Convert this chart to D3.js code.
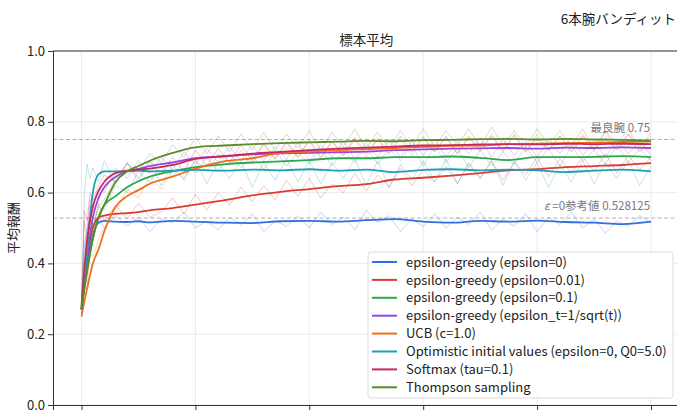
<!DOCTYPE html>
<html>
<head>
<meta charset="utf-8">
<script src="https://cdn.jsdelivr.net/npm/d3@7"></script>
<style>
  body { margin: 0; background: #fff; }
  text { font-family: "Noto Sans CJK JP", "Noto Sans", sans-serif; }
</style>
</head>
<body>
<div id="graph"></div>
<script>
//measurements
var width = 677;
var height = 412;
var plot = { left: 53, right: 679.5, top: 51, bottom: 405 };

//data
var seriesNames = [
    "epsilon-greedy (epsilon=0)",
    "epsilon-greedy (epsilon=0.01)",
    "epsilon-greedy (epsilon=0.1)",
    "epsilon-greedy (epsilon_t=1/sqrt(t))",
    "UCB (c=1.0)",
    "Optimistic initial values (epsilon=0, Q0=5.0)",
    "Softmax (tau=0.1)",
    "Thompson sampling"
];
var colors = ["#2f6fdf", "#dc3b32", "#2aa84f", "#9b45e0", "#f0701e", "#1f9fb5", "#c42a5a", "#5a8c2a"];

// steps of the smoothed curves
var smoothSteps = [0, 50, 100, 150, 200, 300, 400, 500, 600, 800, 1000, 1250, 1500, 1750, 2000,
    2250, 2500, 2750, 3000, 3250, 3500, 3750, 4000, 4250, 4500, 4750, 5000];
var smoothEps0   = [0.27, 0.40, 0.48, 0.515, 0.52, 0.518, 0.517, 0.519, 0.516, 0.52, 0.518, 0.515, 0.514, 0.519, 0.52, 0.518, 0.522, 0.525, 0.518, 0.515, 0.52, 0.518, 0.521, 0.517, 0.515, 0.511, 0.518];
var smoothEps001 = [0.27, 0.42, 0.50, 0.53, 0.535, 0.54, 0.542, 0.545, 0.55, 0.556, 0.566, 0.578, 0.592, 0.602, 0.61, 0.618, 0.624, 0.637, 0.642, 0.648, 0.655, 0.663, 0.666, 0.672, 0.675, 0.678, 0.683];
var smoothEps01  = [0.27, 0.38, 0.47, 0.53, 0.565, 0.59, 0.615, 0.632, 0.645, 0.66, 0.672, 0.68, 0.685, 0.688, 0.692, 0.697, 0.697, 0.70, 0.70, 0.702, 0.698, 0.692, 0.70, 0.70, 0.701, 0.703, 0.70];
var smoothEpsT   = [0.27, 0.42, 0.53, 0.585, 0.615, 0.645, 0.66, 0.667, 0.675, 0.685, 0.697, 0.702, 0.708, 0.711, 0.712, 0.714, 0.716, 0.72, 0.722, 0.724, 0.725, 0.726, 0.724, 0.727, 0.726, 0.728, 0.726];
var smoothUcb    = [0.25, 0.33, 0.40, 0.44, 0.49, 0.56, 0.59, 0.607, 0.625, 0.645, 0.668, 0.688, 0.697, 0.712, 0.716, 0.72, 0.723, 0.726, 0.729, 0.732, 0.733, 0.737, 0.738, 0.74, 0.741, 0.743, 0.744];
var smoothOpt    = [0.27, 0.44, 0.60, 0.652, 0.66, 0.66, 0.66, 0.662, 0.66, 0.662, 0.664, 0.662, 0.665, 0.663, 0.666, 0.662, 0.665, 0.658, 0.664, 0.666, 0.663, 0.665, 0.663, 0.658, 0.662, 0.665, 0.66];
var smoothSoft   = [0.28, 0.47, 0.56, 0.605, 0.63, 0.655, 0.662, 0.665, 0.668, 0.678, 0.695, 0.703, 0.71, 0.715, 0.72, 0.724, 0.727, 0.73, 0.733, 0.734, 0.736, 0.737, 0.736, 0.738, 0.737, 0.738, 0.737];
var smoothTs     = [0.27, 0.38, 0.47, 0.53, 0.565, 0.63, 0.66, 0.675, 0.69, 0.712, 0.728, 0.733, 0.737, 0.74, 0.742, 0.744, 0.746, 0.745, 0.748, 0.749, 0.751, 0.752, 0.75, 0.752, 0.75, 0.749, 0.747];

// steps of the raw (noisy) traces
var rawSteps = [0, 25, 50, 75, 100, 150, 200, 300, 400, 500, 600, 700, 800, 900, 1000,
    1100, 1200, 1300, 1400, 1500, 1600, 1700, 1800, 1900, 2000, 2100, 2200, 2300, 2400, 2500,
    2600, 2700, 2800, 2900, 3000, 3100, 3200, 3300, 3400, 3500, 3600, 3700, 3800, 3900, 4000,
    4100, 4200, 4300, 4400, 4500, 4600, 4700, 4800, 4900, 5000];
var rawEps0   = [0.26, 0.44, 0.50, 0.535, 0.505, 0.53, 0.50, 0.535, 0.505, 0.53, 0.49, 0.525, 0.515, 0.545, 0.50, 0.52, 0.495, 0.53, 0.51, 0.54, 0.49, 0.52, 0.505, 0.535, 0.50, 0.545, 0.51, 0.53, 0.495, 0.55, 0.515, 0.535, 0.49, 0.525, 0.505, 0.54, 0.50, 0.53, 0.51, 0.545, 0.495, 0.525, 0.505, 0.54, 0.49, 0.53, 0.51, 0.545, 0.50, 0.525, 0.485, 0.52, 0.505, 0.535, 0.515];
var rawEps001 = [0.28, 0.52, 0.47, 0.56, 0.50, 0.57, 0.52, 0.565, 0.525, 0.57, 0.53, 0.545, 0.585, 0.54, 0.595, 0.55, 0.60, 0.565, 0.615, 0.575, 0.62, 0.58, 0.635, 0.59, 0.64, 0.585, 0.625, 0.60, 0.655, 0.605, 0.65, 0.615, 0.67, 0.62, 0.665, 0.63, 0.675, 0.625, 0.68, 0.64, 0.69, 0.635, 0.685, 0.65, 0.70, 0.645, 0.695, 0.655, 0.70, 0.66, 0.71, 0.655, 0.705, 0.665, 0.70];
var rawEps01  = [0.27, 0.40, 0.45, 0.52, 0.50, 0.56, 0.55, 0.62, 0.60, 0.66, 0.63, 0.675, 0.645, 0.69, 0.655, 0.70, 0.66, 0.71, 0.67, 0.705, 0.665, 0.72, 0.675, 0.715, 0.68, 0.725, 0.675, 0.72, 0.685, 0.73, 0.68, 0.725, 0.69, 0.735, 0.675, 0.73, 0.685, 0.725, 0.67, 0.72, 0.675, 0.715, 0.68, 0.73, 0.685, 0.725, 0.675, 0.73, 0.69, 0.72, 0.68, 0.735, 0.685, 0.725, 0.69];
var rawEpsT   = [0.27, 0.45, 0.50, 0.58, 0.56, 0.61, 0.60, 0.67, 0.64, 0.69, 0.655, 0.70, 0.665, 0.715, 0.68, 0.725, 0.685, 0.73, 0.69, 0.735, 0.69, 0.73, 0.695, 0.74, 0.69, 0.735, 0.70, 0.745, 0.695, 0.74, 0.70, 0.75, 0.70, 0.745, 0.705, 0.75, 0.70, 0.745, 0.71, 0.755, 0.70, 0.75, 0.705, 0.745, 0.70, 0.75, 0.71, 0.755, 0.705, 0.745, 0.70, 0.75, 0.71, 0.745, 0.705];
var rawUcb    = [0.25, 0.36, 0.34, 0.43, 0.42, 0.47, 0.50, 0.545, 0.61, 0.585, 0.645, 0.61, 0.665, 0.64, 0.69, 0.66, 0.71, 0.675, 0.72, 0.68, 0.735, 0.695, 0.74, 0.70, 0.745, 0.695, 0.745, 0.705, 0.75, 0.70, 0.755, 0.71, 0.75, 0.705, 0.76, 0.715, 0.755, 0.71, 0.76, 0.715, 0.765, 0.72, 0.76, 0.715, 0.765, 0.72, 0.76, 0.725, 0.765, 0.72, 0.77, 0.725, 0.765, 0.73, 0.76];
var rawOpt    = [0.27, 0.60, 0.68, 0.64, 0.67, 0.63, 0.69, 0.625, 0.685, 0.63, 0.69, 0.62, 0.68, 0.635, 0.695, 0.625, 0.685, 0.64, 0.69, 0.615, 0.685, 0.635, 0.695, 0.63, 0.69, 0.625, 0.685, 0.64, 0.695, 0.62, 0.69, 0.615, 0.68, 0.635, 0.69, 0.63, 0.695, 0.625, 0.685, 0.64, 0.69, 0.62, 0.69, 0.635, 0.685, 0.615, 0.68, 0.63, 0.69, 0.625, 0.685, 0.64, 0.69, 0.62, 0.675];
var rawSoft   = [0.28, 0.55, 0.52, 0.60, 0.58, 0.62, 0.65, 0.63, 0.685, 0.64, 0.69, 0.65, 0.70, 0.66, 0.72, 0.675, 0.725, 0.685, 0.735, 0.69, 0.74, 0.695, 0.745, 0.70, 0.75, 0.70, 0.745, 0.705, 0.755, 0.71, 0.75, 0.71, 0.76, 0.715, 0.755, 0.715, 0.76, 0.71, 0.755, 0.72, 0.76, 0.715, 0.765, 0.715, 0.755, 0.72, 0.76, 0.715, 0.76, 0.72, 0.755, 0.72, 0.765, 0.715, 0.755];
var rawTs     = [0.27, 0.40, 0.44, 0.52, 0.50, 0.56, 0.58, 0.64, 0.68, 0.66, 0.71, 0.685, 0.735, 0.70, 0.755, 0.71, 0.76, 0.715, 0.765, 0.72, 0.77, 0.72, 0.765, 0.725, 0.775, 0.72, 0.77, 0.73, 0.78, 0.725, 0.77, 0.725, 0.775, 0.73, 0.78, 0.73, 0.775, 0.735, 0.78, 0.73, 0.785, 0.735, 0.775, 0.73, 0.78, 0.735, 0.775, 0.73, 0.78, 0.725, 0.775, 0.735, 0.78, 0.725, 0.77];

var smoothValues = [smoothEps0, smoothEps001, smoothEps01, smoothEpsT, smoothUcb, smoothOpt, smoothSoft, smoothTs];
var rawValues = [rawEps0, rawEps001, rawEps01, rawEpsT, rawUcb, rawOpt, rawSoft, rawTs];

// reference lines (label = italic prefix + rest)
var refValues = [0.75, 0.528125];
var refPrefix = ["", "ε"];
var refLabels = ["最良腕 0.75", " =0参考値 0.528125"];

var xTicks = [0, 1000, 2000, 3000, 4000, 5000];
var yTicks = [0.0, 0.2, 0.4, 0.6, 0.8, 1.0];

var chart;

init();

function init() {
    chart = d3.select("#graph").append("svg")
        .attr("width", width)
        .attr("height", height);

    chart.xScale = d3.scaleLinear().domain([-250, 5250]).range([plot.left, plot.right]);
    chart.yScale = d3.scaleLinear().domain([0, 1]).range([plot.bottom, plot.top]);

    drawGrid();
    drawRefLines();
    drawLines();
    createAxis();
    drawLegend();
    drawTitles();
}

function drawGrid() {
    var g = chart.append("g");
    g.selectAll(".vgrid")
        .data(xTicks)
        .enter().append("line")
          .attr("x1", function (d) { return chart.xScale(d); })
          .attr("x2", function (d) { return chart.xScale(d); })
          .attr("y1", plot.top)
          .attr("y2", plot.bottom)
          .style("stroke", "#e6e6e6")
          .style("stroke-width", 0.8);
    g.selectAll(".hgrid")
        .data(yTicks)
        .enter().append("line")
          .attr("x1", plot.left)
          .attr("x2", plot.right)
          .attr("y1", function (d) { return chart.yScale(d); })
          .attr("y2", function (d) { return chart.yScale(d); })
          .style("stroke", "#e6e6e6")
          .style("stroke-width", 0.8);
}

function drawRefLines() {
    var g = chart.append("g");
    g.selectAll("line")
        .data(refValues)
        .enter().append("line")
          .attr("x1", plot.left)
          .attr("x2", plot.right)
          .attr("y1", function (d) { return chart.yScale(d); })
          .attr("y2", function (d) { return chart.yScale(d); })
          .style("stroke", "#b0b0b0")
          .style("stroke-width", 1)
          .style("stroke-dasharray", "4,2.5");
    var label = g.selectAll("text")
        .data(refValues)
        .enter().append("text")
          .attr("x", chart.xScale(5000) - 1)
          .attr("y", function (d) { return chart.yScale(d) - 8; })
          .attr("text-anchor", "end")
          .style("font-size", "11.5px")
          .style("fill", "#777");
    label.append("tspan")
        .style("font-style", "italic")
        .text(function (d, i) { return refPrefix[i]; });
    label.append("tspan")
        .text(function (d, i) { return refLabels[i]; });
}

function drawLines() {
    var raw = d3.line()
        .x(function (d) { return chart.xScale(d[0]); })
        .y(function (d) { return chart.yScale(d[1]); });
    var smooth = d3.line()
        .curve(d3.curveMonotoneX)
        .x(function (d) { return chart.xScale(d[0]); })
        .y(function (d) { return chart.yScale(d[1]); });

    var g = chart.append("g");
    seriesNames.forEach(function (name, i) {
        var rawPts = rawValues[i].map(function (v, j) { return [rawSteps[j], v]; });
        var smoothPts = smoothValues[i].map(function (v, j) { return [smoothSteps[j], v]; });
        g.append("path")
            .attr("d", raw(rawPts))
            .style("fill", "none")
            .style("stroke", colors[i])
            .style("stroke-opacity", 0.28)
            .style("stroke-width", 1);
        g.append("path")
            .attr("d", smooth(smoothPts))
            .style("fill", "none")
            .style("stroke", colors[i])
            .style("stroke-width", 1.8);
    });
}

function createAxis() {
    // x tick labels fall below the visible frame, only the tick marks show
    chart.xAxis = d3.axisBottom(chart.xScale)
        .tickValues(xTicks)
        .tickSize(5)
        .tickFormat("");
    chart.append("g")
        .attr("transform", "translate(0," + plot.bottom + ")")
        .call(chart.xAxis)
        .call(styleAxis);

    chart.yAxis = d3.axisLeft(chart.yScale)
        .tickValues(yTicks)
        .tickSize(5)
        .tickFormat(d3.format(".1f"));
    chart.append("g")
        .attr("transform", "translate(" + plot.left + ",0)")
        .call(chart.yAxis)
        .call(styleAxis);

    // top spine
    chart.append("line")
        .attr("x1", plot.left).attr("x2", plot.right)
        .attr("y1", plot.top).attr("y2", plot.top)
        .style("stroke", "#333")
        .style("stroke-width", 1);

    // y axis header label
    chart.append("text")
        .style("font-size", "13px")
        .style("fill", "#222")
        .attr("text-anchor", "middle")
        .attr("transform", "translate(18," + ((plot.top + plot.bottom) / 2) + ") rotate(-90)")
        .text("平均報酬");
}

function styleAxis(sel) {
    sel.select(".domain").style("stroke", "#333").style("stroke-width", 1);
    sel.selectAll(".tick line").style("stroke", "#333");
    sel.selectAll(".tick text")
        .style("font-size", "13px")
        .style("fill", "#222")
        .style("font-family", "\"Noto Sans CJK JP\", sans-serif");
}

function drawLegend() {
    var lx = 368, ly = 252, lw = 305, lh = 146, row = 17.9;
    var g = chart.append("g");
    g.append("rect")
        .attr("x", lx).attr("y", ly)
        .attr("width", lw).attr("height", lh)
        .attr("rx", 3)
        .style("fill", "#fff")
        .style("fill-opacity", 0.9)
        .style("stroke", "#d4d4d4")
        .style("stroke-width", 0.8);
    var item = g.selectAll(".item")
        .data(seriesNames)
        .enter().append("g")
          .attr("transform", function (d, i) { return "translate(" + lx + "," + (ly + 10 + i * row) + ")"; });
    item.append("line")
        .attr("x1", 4).attr("x2", 29)
        .attr("y1", 0).attr("y2", 0)
        .style("stroke", function (d, i) { return colors[i]; })
        .style("stroke-width", 2);
    item.append("text")
        .attr("x", 38)
        .attr("y", 0)
        .attr("dy", "0.36em")
        .style("font-size", "13px")
        .style("fill", "#222")
        .text(function (d) { return d; });
}

function drawTitles() {
    chart.append("text")
        .attr("x", (plot.left + plot.right) / 2)
        .attr("y", 45)
        .attr("text-anchor", "middle")
        .style("font-size", "13.5px")
        .style("fill", "#222")
        .text("標本平均");
    chart.append("text")
        .attr("x", 676)
        .attr("y", 24)
        .attr("text-anchor", "end")
        .style("font-size", "13.5px")
        .style("fill", "#222")
        .text("6本腕バンディット");
}
</script>
</body>
</html>
